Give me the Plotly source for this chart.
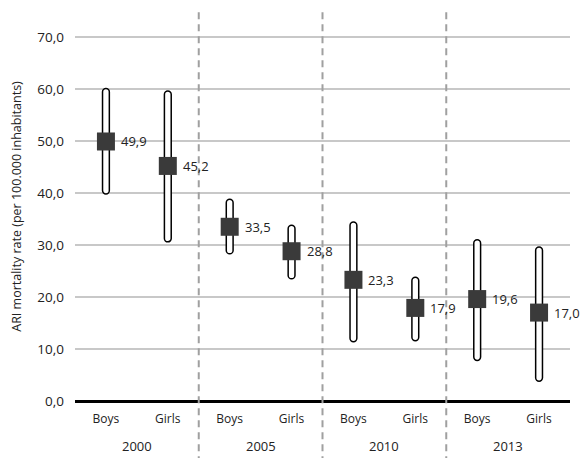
import plotly.graph_objects as go

years = ["2000", "2000", "2005", "2005", "2010", "2010", "2013", "2013"]
sexes = ["Boys", "Girls", "Boys", "Girls", "Boys", "Girls", "Boys", "Girls"]
rate = [49.9, 45.2, 33.5, 28.8, 23.3, 17.9, 19.6, 17.0]
low = [39.8, 30.6, 28.3, 23.5, 11.4, 11.6, 7.8, 3.8]
high = [60.1, 59.6, 38.8, 33.8, 34.4, 23.8, 31.0, 29.6]
labels = ["49,9", "45,2", "33,5", "28,8", "23,3", "17,9", "19,6", "17,0"]
y_ticks = [0, 10, 20, 30, 40, 50, 60, 70]

cats = [f"{y} {s}" for y, s in zip(years, sexes)]
group_years = list(dict.fromkeys(years))
font = "Open Sans, Noto Sans, sans-serif"

fig = go.Figure()
fig.add_trace(go.Bar(
    x=cats, y=[h - l for h, l in zip(high, low)], base=low,
    width=0.11, marker=dict(color="white", line=dict(color="black", width=1.5)),
    hoverinfo="skip", showlegend=False,
))
fig.add_trace(go.Scatter(
    x=cats, y=rate, mode="markers",
    marker=dict(symbol="square", size=18, color="#3a3a3a"),
    showlegend=False,
))
for c, v, t in zip(cats, rate, labels):
    fig.add_annotation(x=c, y=v, xref="x", yref="y", text=t, showarrow=False,
                       xanchor="left", yanchor="middle", xshift=13,
                       font=dict(size=13, color="#222222", family=font))

for i in range(1, len(group_years)):
    fig.add_shape(type="line", xref="x", yref="paper", x0=2 * i - 0.5, x1=2 * i - 0.5,
                  y0=-0.16, y1=1.0, line=dict(color="#a0a0a0", width=2, dash="7px,5px"))
for i, yr in enumerate(group_years):
    fig.add_annotation(x=2 * i + 0.5, xref="x", y=0, yref="paper", yshift=-56,
                       text=yr, showarrow=False, font=dict(size=13, color="#222222"))

fig.update_layout(
    width=572, height=450,
    margin=dict(l=67, r=10, t=4, b=57, autoexpand=False),
    paper_bgcolor="white", plot_bgcolor="white",
    separators=",.",
    barcornerradius=4,
    font=dict(family=font, color="#222222", size=12),
    xaxis=dict(type="category", showgrid=False, tickvals=cats, ticktext=sexes,
               tickfont=dict(size=12), ticks="", automargin=False, range=[-0.5, 7.5],
               ticklabelstandoff=9),
    yaxis=dict(range=[0, 74.8], tickvals=y_ticks, tickformat=".1f",
               showgrid=True, gridcolor="#c8c8c8", gridwidth=2,
               zeroline=True, zerolinecolor="black", zerolinewidth=2.5,
               tickfont=dict(size=13.5), automargin=False, ticklabelstandoff=10,
               title=dict(text="ARI mortality rate (per 100.000 inhabitants)",
                          font=dict(size=12.5), standoff=12)),
)
fig.write_html("out.html")
